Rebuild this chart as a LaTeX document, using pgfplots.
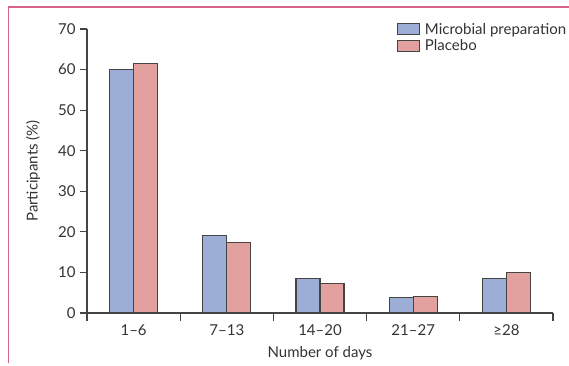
\documentclass[border=0pt]{standalone}
\usepackage{pgfplots}
\pgfplotsset{compat=1.18}
\usepackage{fontspec}
\setmainfont{Lato}
\definecolor{barblue}{HTML}{9DAED6}
\definecolor{barpink}{HTML}{E2A19F}
\definecolor{frame}{HTML}{D9628A}
\definecolor{txt}{HTML}{333333}
\definecolor{axc}{HTML}{444444}
\begin{document}
\begin{tikzpicture}
\useasboundingbox (-87pt,-52pt) rectangle (482pt,313pt);
\draw[frame, line width=1.2pt] (-78.5pt,-50pt) -- (-78.5pt,306pt) -- (482pt,306pt);
\begin{axis}[
  at={(0pt,0pt)}, anchor=south west,
  scale only axis, width=466pt, height=284pt,
  xmin=-0.5, xmax=4.5, ymin=0, ymax=70,
  axis lines*=left,
  axis line style={axc, line width=1.1pt},
  every tick/.style={axc, line width=1.1pt},
  tick align=outside,
  ytick={0,10,...,70},
  major tick length=7pt,
  xtick={0,1,2,3,4},
  xticklabels={1–6,7–13,14–20,21–27,≥28},
  x tick style={draw=none},
  minor xtick={-0.5,0.5,...,4.5},
  minor x tick style={draw=axc, line width=1.1pt},
  minor tick length=8pt,
  ybar=0pt, bar width=24pt,
  ticklabel style={font=\fontsize{15}{17}\selectfont, text=txt},
  yticklabel style={xshift=-1pt},
  xticklabel style={yshift=-1pt},
  /pgf/number format/assume math mode=true,
  xlabel={Number of days}, ylabel={Participants (\%)},
  label style={font=\fontsize{15}{17}\selectfont, text=txt},
  xlabel style={yshift=-4pt},
  ylabel style={yshift=11pt},
  legend style={draw=none, fill=none, at={(0.658,1.035)}, anchor=north west,
    font=\fontsize{15}{17}\selectfont, text=txt, row sep=0pt,
    /tikz/every even column/.append style={column sep=2pt},
    /tikz/every odd column/.append style={column sep=3pt}},
  legend cell align=left,
  legend image code/.code={\draw[#1] (0pt,-5pt) rectangle (22pt,6pt);},
  clip=false,
]
\addplot[fill=barblue, draw=axc, line width=1.1pt] coordinates {(0,60.0) (1,19.0) (2,8.4) (3,3.9) (4,8.6)};
\addplot[fill=barpink, draw=axc, line width=1.1pt] coordinates {(0,61.4) (1,17.3) (2,7.3) (3,4.1) (4,10.0)};
\legend{Microbial preparation, Placebo}
\end{axis}
\end{tikzpicture}
\end{document}
